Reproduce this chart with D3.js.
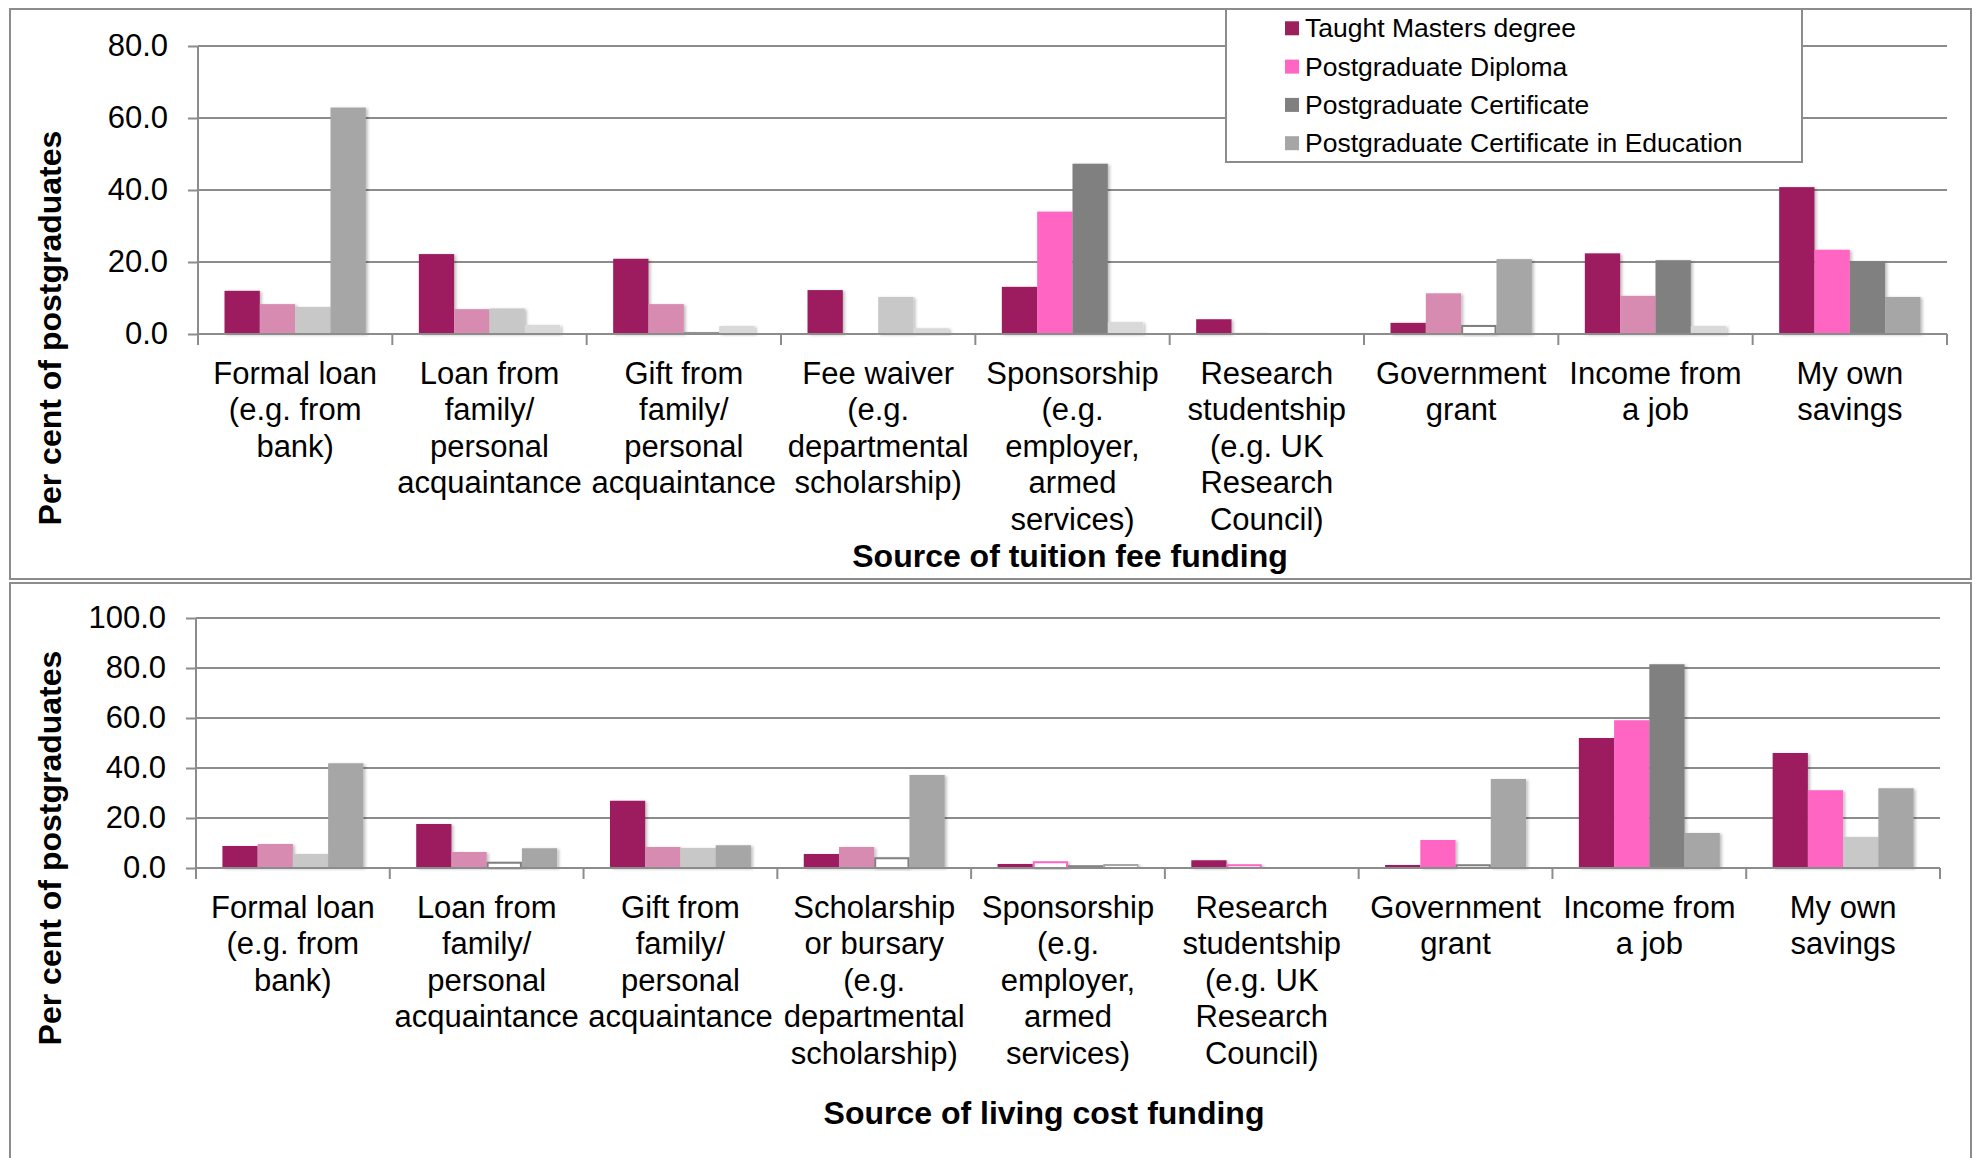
<!DOCTYPE html>
<html lang="en">
<head>
  <meta charset="UTF-8">
  <title>Postgraduate funding sources</title>
  <script src="https://d3js.org/d3.v7.min.js"></script>
  <style>
    body { margin: 0; background: #fff; }
    text { font-family: "Liberation Sans", Arial, sans-serif; fill: #000; }
  </style>
</head>
<body>
  <div id="chart"></div>
  <script>

    // series (legend order)
    var seriesNames = ["Taught Masters degree", "Postgraduate Diploma", "Postgraduate Certificate", "Postgraduate Certificate in Education"];

    // category labels, one array of lines per category
    var feeCategories = [
      ["Formal loan", "(e.g. from", "bank)"],
      ["Loan from", "family/", "personal", "acquaintance"],
      ["Gift from", "family/", "personal", "acquaintance"],
      ["Fee waiver", "(e.g.", "departmental", "scholarship)"],
      ["Sponsorship", "(e.g.", "employer,", "armed", "services)"],
      ["Research", "studentship", "(e.g. UK", "Research", "Council)"],
      ["Government", "grant"],
      ["Income from", "a job"],
      ["My own", "savings"]
    ];
    var livingCategories = [
      ["Formal loan", "(e.g. from", "bank)"],
      ["Loan from", "family/", "personal", "acquaintance"],
      ["Gift from", "family/", "personal", "acquaintance"],
      ["Scholarship", "or bursary", "(e.g.", "departmental", "scholarship)"],
      ["Sponsorship", "(e.g.", "employer,", "armed", "services)"],
      ["Research", "studentship", "(e.g. UK", "Research", "Council)"],
      ["Government", "grant"],
      ["Income from", "a job"],
      ["My own", "savings"]
    ];

    // tuition fee funding, per cent
    var feeTaught      = [12.0, 22.2, 20.9, 12.2, 13.1, 4.1, 3.1, 22.4, 40.8];
    var feeDiploma     = [8.3, 6.9, 8.3, 0, 34.0, 0.3, 11.3, 10.6, 23.4];
    var feeCertificate = [7.5, 7.1, 0.5, 10.3, 47.3, 0, 2.5, 20.5, 20.2];
    var feePGCE        = [62.9, 2.5, 2.2, 1.6, 3.3, 0, 20.8, 2.2, 10.3];

    // living cost funding, per cent
    var livTaught      = [8.8, 17.6, 26.9, 5.6, 1.6, 3.1, 1.2, 52.0, 46.0];
    var livDiploma     = [9.6, 6.4, 8.4, 8.4, 2.7, 1.5, 11.2, 59.1, 31.1];
    var livCertificate = [5.6, 2.5, 8.0, 4.3, 1.1, 0, 1.5, 81.5, 12.4];
    var livPGCE        = [41.9, 7.9, 9.1, 37.2, 1.6, 0, 35.6, 14.0, 31.9];

    // reliability flags: 0 = reliable, 1 = caution (small sample), 2 = very small sample
    var feeFlagTaught      = [0, 0, 0, 0, 0, 0, 0, 0, 0];
    var feeFlagDiploma     = [1, 1, 1, 0, 0, 1, 1, 1, 0];
    var feeFlagCertificate = [1, 1, 0, 1, 0, 0, 2, 0, 0];
    var feeFlagPGCE        = [0, 1, 1, 1, 1, 0, 0, 1, 0];

    var livFlagTaught      = [0, 0, 0, 0, 0, 0, 0, 0, 0];
    var livFlagDiploma     = [1, 1, 1, 1, 2, 2, 0, 0, 0];
    var livFlagCertificate = [1, 2, 1, 2, 2, 0, 2, 0, 1];
    var livFlagPGCE        = [0, 0, 0, 0, 2, 0, 0, 0, 0];

    var feeTicks = [0, 20, 40, 60, 80];
    var livTicks = [0, 20, 40, 60, 80, 100];

    // colours: normal and "caution" shade for each series
    var colors = ["#9c1f5e", "#ff66c4", "#808080", "#a6a6a6"];
    var lightColors = ["#9c1f5e", "#d78bb0", "#c8c8c8", "#d9d9d9"];
    var lineColor = "#8c8c8c";

    var W = 1977, H = 1158;
    var svg = d3.select("#chart").append("svg")
      .attr("width", W)
      .attr("height", H);

    // soft shadow like the office chart bars
    var f = svg.append("defs").append("filter").attr("id", "shadow")
      .attr("x", "-20%").attr("y", "-20%").attr("width", "150%").attr("height", "150%");
    f.append("feDropShadow").attr("dx", 2).attr("dy", 1).attr("stdDeviation", 1.5)
      .attr("flood-color", "#000").attr("flood-opacity", 0.25);

    function drawPanel(opt) {
      var g = svg.append("g");

      // panel frame
      g.append("rect")
        .attr("x", 10).attr("y", opt.frameTop)
        .attr("width", 1961).attr("height", opt.frameBottom - opt.frameTop)
        .attr("fill", "none").attr("stroke", lineColor).attr("stroke-width", 2);

      var cats = d3.range(opt.categories.length);
      var x0 = d3.scaleBand().domain(cats).range([opt.left, opt.right]).padding(0);
      var x1 = d3.scaleBand().domain(d3.range(4)).range([0, x0.bandwidth()])
        .paddingInner(0).paddingOuter(0.75);
      var y = d3.scaleLinear().domain([0, opt.max]).range([opt.bottom, opt.top]);

      // gridlines
      g.append("g").selectAll("line").data(opt.ticks.slice(1)).enter().append("line")
        .attr("x1", opt.left).attr("x2", opt.right)
        .attr("y1", function (d) { return y(d); })
        .attr("y2", function (d) { return y(d); })
        .attr("stroke", lineColor).attr("stroke-width", 2);

      // y axis
      var yAxis = g.append("g")
        .attr("transform", "translate(" + opt.left + ",0)")
        .call(d3.axisLeft(y).tickValues(opt.ticks).tickSize(10).tickPadding(20)
          .tickFormat(d3.format(".1f")));
      yAxis.selectAll("path, line").attr("stroke", lineColor).attr("stroke-width", 2);
      yAxis.select(".domain").attr("d", "M0," + y(opt.max) + "V" + (opt.bottom + 11));
      yAxis.selectAll("text").style("font-size", "31px")
        .style("font-family", "'Liberation Sans', Arial, sans-serif").attr("fill", "#000");

      // series data
      var rows = [];
      opt.values.forEach(function (vals, s) {
        vals.forEach(function (v, c) {
          rows.push({ s: s, c: c, v: v, flag: opt.flags[s][c] });
        });
      });

      g.append("g").selectAll("rect").data(rows.filter(function (d) { return d.v > 0; }))
        .enter().append("rect")
        .attr("x", function (d) { return x0(d.c) + x1(d.s) + (d.flag === 2 ? 1 : 0); })
        .attr("width", function (d) { return x1.bandwidth() - (d.flag === 2 ? 2 : 0); })
        .attr("y", function (d) { return y(d.v) + (d.flag === 2 ? 1 : 0); })
        .attr("height", function (d) { return opt.bottom - y(d.v) - (d.flag === 2 ? 1 : 0); })
        .attr("fill", function (d) {
          if (d.flag === 2) return "#fff";
          return d.flag === 1 ? lightColors[d.s] : colors[d.s];
        })
        .attr("stroke", function (d) { return d.flag === 2 ? colors[d.s] : "none"; })
        .attr("stroke-width", 2)
        .attr("filter", "url(#shadow)");

      // x axis line and ticks
      var xg = g.append("g");
      xg.append("line")
        .attr("x1", opt.left).attr("x2", opt.right)
        .attr("y1", opt.bottom).attr("y2", opt.bottom)
        .attr("stroke", lineColor).attr("stroke-width", 2);
      xg.selectAll("line.tick").data(cats.concat([cats.length])).enter().append("line")
        .attr("class", "tick")
        .attr("x1", function (d) { return d < cats.length ? x0(d) : opt.right; })
        .attr("x2", function (d) { return d < cats.length ? x0(d) : opt.right; })
        .attr("y1", opt.bottom).attr("y2", opt.bottom + 11)
        .attr("stroke", lineColor).attr("stroke-width", 2);

      // category labels
      var lab = g.append("g").selectAll("text").data(opt.categories).enter().append("text")
        .attr("text-anchor", "middle")
        .style("font-size", "31px")
        .attr("x", function (d, i) { return x0(i) + x0.bandwidth() / 2; })
        .attr("y", opt.labelTop);
      lab.selectAll("tspan").data(function (d) { return d; }).enter().append("tspan")
        .attr("x", function () { return d3.select(this.parentNode).attr("x"); })
        .attr("y", function (d, i) { return opt.labelTop + i * 36.6; })
        .attr("dominant-baseline", "central")
        .text(function (d) { return d; });

      // axis titles
      g.append("text")
        .attr("x", opt.titleX).attr("y", opt.titleY)
        .attr("text-anchor", "middle").attr("dominant-baseline", "central")
        .style("font-size", "32px").style("font-weight", "bold")
        .text(opt.title);
      g.append("text")
        .attr("transform", "translate(50," + opt.yTitleY + ") rotate(-90)")
        .attr("text-anchor", "middle").attr("dominant-baseline", "central")
        .style("font-size", "32px").style("font-weight", "bold")
        .text("Per cent of postgraduates");
    }

    drawPanel({
      frameTop: 9, frameBottom: 579,
      left: 198, right: 1947, top: 46, bottom: 334, max: 80,
      ticks: feeTicks,
      categories: feeCategories,
      values: [feeTaught, feeDiploma, feeCertificate, feePGCE],
      flags: [feeFlagTaught, feeFlagDiploma, feeFlagCertificate, feeFlagPGCE],
      labelTop: 373,
      title: "Source of tuition fee funding", titleX: 1070, titleY: 556,
      yTitleY: 328
    });

    drawPanel({
      frameTop: 583, frameBottom: 1175,
      left: 196, right: 1940, top: 618, bottom: 868, max: 100,
      ticks: livTicks,
      categories: livingCategories,
      values: [livTaught, livDiploma, livCertificate, livPGCE],
      flags: [livFlagTaught, livFlagDiploma, livFlagCertificate, livFlagPGCE],
      labelTop: 907,
      title: "Source of living cost funding", titleX: 1044, titleY: 1113,
      yTitleY: 848
    });

    // legend (top panel)
    var leg = svg.append("g");
    leg.append("rect")
      .attr("x", 1226).attr("y", 9).attr("width", 576).attr("height", 153)
      .attr("fill", "#fff").attr("stroke", lineColor).attr("stroke-width", 2);
    var items = leg.selectAll("g.item").data(seriesNames).enter().append("g")
      .attr("class", "item")
      .attr("transform", function (d, i) { return "translate(1285," + (28.3 + i * 38.3) + ")"; });
    items.append("rect")
      .attr("x", 0).attr("y", -7).attr("width", 14).attr("height", 14)
      .attr("fill", function (d, i) { return colors[i]; });
    items.append("text")
      .attr("x", 20).attr("y", 0).attr("dominant-baseline", "central")
      .style("font-size", "26.5px")
      .text(function (d) { return d; });

  </script>
</body>
</html>
